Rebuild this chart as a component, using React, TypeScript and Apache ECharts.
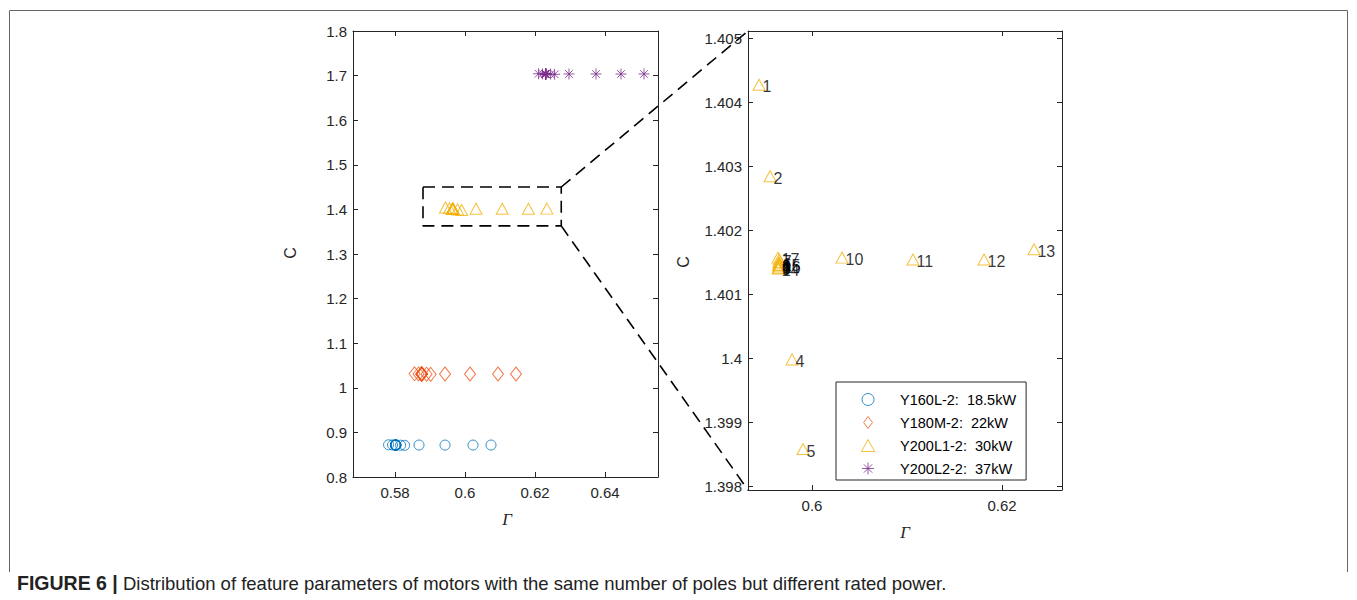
import React, { useEffect, useRef } from "react";
import * as echarts from "echarts";

// ---------------- data ----------------
const seriesNames = ["Y160L-2:  18.5kW", "Y180M-2:  22kW", "Y200L1-2:  30kW", "Y200L2-2:  37kW"];
const pointLabels = ["1", "2", "3", "4", "5", "6", "7", "8", "9", "10", "11", "12", "13", "14", "15", "16", "17"];

const gammaY160 = [0.57816, 0.5793, 0.58018, 0.58159, 0.58275, 0.58022, 0.58025, 0.5802, 0.58016, 0.58686, 0.59429, 0.60229, 0.60743, 0.58014, 0.58024, 0.58027, 0.58012];
const cY160 = [0.8722, 0.8719, 0.8716, 0.8713, 0.871, 0.8716, 0.8717, 0.8716, 0.8716, 0.8717, 0.8716, 0.8716, 0.8717, 0.8715, 0.8716, 0.8716, 0.8717];

const gammaY180 = [0.58559, 0.58673, 0.58762, 0.58902, 0.59018, 0.58766, 0.58769, 0.58764, 0.5876, 0.59429, 0.60143, 0.60943, 0.61457, 0.58758, 0.58767, 0.5877, 0.58756];
const cY180 = [1.0314, 1.0311, 1.0308, 1.0305, 1.0302, 1.0308, 1.0309, 1.0308, 1.0308, 1.0309, 1.0309, 1.0309, 1.0309, 1.0307, 1.0308, 1.0308, 1.0309];

const gammaY200L1 = [0.59442, 0.59558, 0.59648, 0.59789, 0.59905, 0.59652, 0.59655, 0.5965, 0.59646, 0.60316, 0.61063, 0.61811, 0.62337, 0.59644, 0.59654, 0.59657, 0.59642];
const cY200L1 = [1.40427, 1.40284, 1.40146, 1.39998, 1.39858, 1.4015, 1.40154, 1.40143, 1.40141, 1.40157, 1.40154, 1.40154, 1.4017, 1.4014, 1.40148, 1.40145, 1.40157];

const gammaY200L2 = [0.62101, 0.62215, 0.62304, 0.62444, 0.6256, 0.62308, 0.62311, 0.62306, 0.62302, 0.62971, 0.63743, 0.64457, 0.65114, 0.623, 0.62309, 0.62313, 0.62298];
const cY200L2 = [1.7041, 1.7039, 1.7036, 1.7033, 1.703, 1.7036, 1.7037, 1.7036, 1.7035, 1.7036, 1.7036, 1.7036, 1.7037, 1.7035, 1.7036, 1.7036, 1.7036];

// zoom box (left plot)
const zoomBoxGamma = [0.588, 0.6275];
const zoomBoxC = [1.363, 1.4502];

// axes
const leftXRange = [0.568, 0.65514];
const leftYRange = [0.8, 1.8];
const leftXTicks = [0.58, 0.6, 0.62, 0.64];
const leftYTicks = [0.8, 0.9, 1.0, 1.1, 1.2, 1.3, 1.4, 1.5, 1.6, 1.7, 1.8];
const rightXRange = [0.59326, 0.62632];
const rightYRange = [1.39794, 1.40511];
const rightXTicks = [0.6, 0.62];
const rightYTicks = [1.398, 1.399, 1.4, 1.401, 1.402, 1.403, 1.404, 1.405];

const captionBold = "FIGURE 6 |";
const captionText = " Distribution of feature parameters of motors with the same number of poles but different rated power.";

// ---------------- styles ----------------
const AX = "#262626";
const BLUE = "#0072BD";
const RED = "#F0561D";
const YELLOW = "#F2B00A";
const PURPLE = "#7E2F8E";
const FONT = "'Liberation Sans', Arial, Helvetica, sans-serif";

const TRI = "path://M6,0L12,11L0,11Z";
const DIAMOND = "path://M5.5,0L11,7.5L5.5,15L0,7.5Z";
const STAR = "path://M5,0L5,10M0,5L10,5M1.5,1.5L8.5,8.5M1.5,8.5L8.5,1.5";

const zip = (a: number[], b: number[]) => a.map((v, i) => [v, b[i]]);

function axis(
  dir: "x" | "y",
  gridIndex: number,
  position: string,
  range: number[],
  ticks: number[],
  labels: boolean
) {
  return {
    type: "value",
    gridIndex,
    position,
    min: range[0],
    max: range[1],
    axisLine: { show: true, onZero: false, lineStyle: { color: AX, width: 1 } },
    axisTick: { show: true, inside: true, length: 5, customValues: ticks, lineStyle: { color: AX, width: 1 } },
    axisLabel: {
      show: labels,
      customValues: ticks,
      color: AX,
      fontSize: 15,
      fontFamily: FONT,
      margin: dir === "x" ? 8 : 6,
    },
    splitLine: { show: false },
  };
}

function hollow(color: string) {
  return { color: "rgba(0,0,0,0)", borderColor: color, borderWidth: 1 };
}

const option: any = {
  animation: false,
  backgroundColor: "#ffffff",
  textStyle: { fontFamily: FONT },
  grid: [
    { left: 353, top: 31, width: 305, height: 446, outerBoundsMode: "none", containLabel: false },
    { left: 748, top: 31, width: 314, height: 459, outerBoundsMode: "none", containLabel: false },
  ],
  xAxis: [
    axis("x", 0, "bottom", leftXRange, leftXTicks, true),
    axis("x", 0, "top", leftXRange, leftXTicks, false),
    axis("x", 1, "bottom", rightXRange, rightXTicks, true),
    axis("x", 1, "top", rightXRange, rightXTicks, false),
  ],
  yAxis: [
    axis("y", 0, "left", leftYRange, leftYTicks, true),
    axis("y", 0, "right", leftYRange, leftYTicks, false),
    axis("y", 1, "left", rightYRange, rightYTicks, true),
    axis("y", 1, "right", rightYRange, rightYTicks, false),
  ],
  legend: {
    data: seriesNames,
    orient: "vertical",
    left: 836,
    top: 382,
    padding: [10, 10, 4, 25],
    itemWidth: 54,
    itemHeight: 12,
    itemGap: 8,
    backgroundColor: "#ffffff",
    borderColor: AX,
    borderWidth: 1,
    borderRadius: 0,
    selectedMode: false,
    itemStyle: { borderWidth: 1 },
    textStyle: { color: "#000", fontSize: 14.5, fontFamily: FONT, padding: [0, 0, 0, 0] },
  },
  series: [
    {
      name: seriesNames[0],
      type: "scatter",
      xAxisIndex: 0,
      yAxisIndex: 0,
      symbol: "circle",
      symbolSize: 10,
      itemStyle: hollow(BLUE),
      data: zip(gammaY160, cY160),
    },
    {
      name: seriesNames[1],
      type: "scatter",
      xAxisIndex: 0,
      yAxisIndex: 0,
      symbol: DIAMOND,
      symbolSize: [11, 14],
      itemStyle: hollow(RED),
      data: zip(gammaY180, cY180),
    },
    {
      name: seriesNames[2],
      type: "scatter",
      xAxisIndex: 0,
      yAxisIndex: 0,
      symbol: TRI,
      symbolSize: [12, 11],
      itemStyle: hollow(YELLOW),
      data: zip(gammaY200L1, cY200L1),
    },
    {
      name: seriesNames[3],
      type: "scatter",
      xAxisIndex: 0,
      yAxisIndex: 0,
      symbol: STAR,
      symbolSize: 11,
      itemStyle: hollow(PURPLE),
      data: zip(gammaY200L2, cY200L2),
    },
    {
      name: seriesNames[2],
      type: "scatter",
      xAxisIndex: 2,
      yAxisIndex: 2,
      symbol: TRI,
      symbolSize: [12, 11],
      itemStyle: hollow(YELLOW),
      label: {
        show: true,
        formatter: (p: any) => pointLabels[p.dataIndex],
        position: [10, 8],
        align: "left",
        verticalAlign: "middle",
        color: "#000",
        fontSize: 16,
        fontFamily: FONT,
      },
      data: zip(gammaY200L1, cY200L1),
    },
    {
      name: "zoom box",
      type: "line",
      xAxisIndex: 0,
      yAxisIndex: 0,
      symbol: "none",
      silent: true,
      lineStyle: { color: "#000", width: 1.6, type: [12, 7] },
      data: [
        [zoomBoxGamma[0], zoomBoxC[1]],
        [zoomBoxGamma[1], zoomBoxC[1]],
        [zoomBoxGamma[1], zoomBoxC[0]],
        [zoomBoxGamma[0], zoomBoxC[0]],
        [zoomBoxGamma[0], zoomBoxC[1]],
      ],
    },
  ],
};

export default function App() {
  const ref = useRef<HTMLDivElement>(null);
  useEffect(() => {
    const chart = echarts.init(ref.current!, null, { renderer: "svg" });
    chart.setOption(option);
    const a = chart.convertToPixel({ xAxisIndex: 0, yAxisIndex: 0 }, [zoomBoxGamma[1], zoomBoxC[1]]) as number[];
    const b = chart.convertToPixel({ xAxisIndex: 0, yAxisIndex: 0 }, [zoomBoxGamma[1], zoomBoxC[0]]) as number[];
    const c = chart.convertToPixel({ xAxisIndex: 2, yAxisIndex: 2 }, [rightXRange[0], rightYRange[1]]) as number[];
    const d = chart.convertToPixel({ xAxisIndex: 2, yAxisIndex: 2 }, [rightXRange[0], rightYRange[0]]) as number[];
    const dash = { stroke: "#000", lineWidth: 1.6, lineDash: [12, 7] };
    chart.setOption({
      graphic: [
        {
          type: "polyline",
          silent: true,
          shape: { points: [[9.5, 572], [9.5, 10.5], [1347.5, 10.5], [1347.5, 572]] },
          style: { fill: "none", stroke: "#666", lineWidth: 1 },
        },
        { type: "line", silent: true, shape: { x1: a[0], y1: a[1], x2: c[0], y2: c[1] }, style: dash },
        { type: "line", silent: true, shape: { x1: b[0], y1: b[1], x2: d[0], y2: d[1] }, style: dash },
        {
          type: "text",
          silent: true,
          x: 290,
          y: 253,
          rotation: Math.PI / 2,
          style: { text: "C", fill: AX, fontSize: 16, fontFamily: FONT, align: "center", verticalAlign: "middle" },
        },
        {
          type: "text",
          silent: true,
          x: 683,
          y: 262,
          rotation: Math.PI / 2,
          style: { text: "C", fill: AX, fontSize: 16, fontFamily: FONT, align: "center", verticalAlign: "middle" },
        },
        {
          type: "text",
          silent: true,
          x: 507,
          y: 519,
          style: { text: "Γ", fill: AX, fontSize: 17, fontStyle: "italic", fontFamily: "'Liberation Serif', 'Times New Roman', serif", align: "center", verticalAlign: "middle" },
        },
        {
          type: "text",
          silent: true,
          x: 905,
          y: 532,
          style: { text: "Γ", fill: AX, fontSize: 17, fontStyle: "italic", fontFamily: "'Liberation Serif', 'Times New Roman', serif", align: "center", verticalAlign: "middle" },
        },
        {
          type: "text",
          silent: true,
          x: 17,
          y: 583,
          style: {
            text: "{b|" + captionBold + "}" + captionText,
            fill: "#222",
            fontSize: 18.5,
            fontFamily: FONT,
            verticalAlign: "middle",
            rich: { b: { fontWeight: "bold", fontSize: 19.5, fontFamily: FONT, fill: "#222" } },
          },
        },
      ],
    });
    return () => chart.dispose();
  }, []);
  return <div ref={ref} style={{ position: "absolute", left: 0, top: 0, width: 1357, height: 600 }} />;
}
